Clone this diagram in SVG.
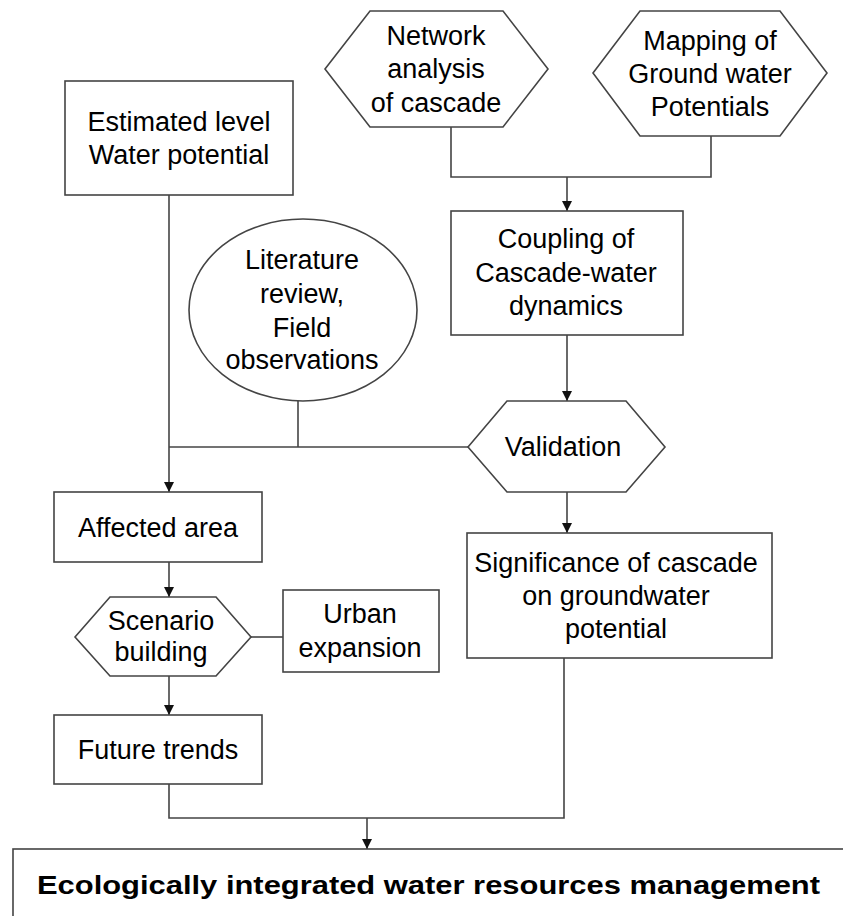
<svg xmlns="http://www.w3.org/2000/svg" width="843" height="916" viewBox="0 0 843 916">
<style>
.shape{fill:#fff;stroke:#444;stroke-width:1.6}
.conn{fill:none;stroke:#444;stroke-width:1.6}
text{font-family:"Liberation Sans",Arial,sans-serif;font-size:27px;fill:#000;text-anchor:middle}
.big{font-weight:bold;font-size:25px;text-anchor:start}
</style>
<defs>
<marker id="arr" viewBox="0 0 10 10" refX="10" refY="5" markerWidth="10" markerHeight="10" markerUnits="userSpaceOnUse" orient="auto">
<path d="M0,0 L10,5 L0,10 z" fill="#111"/>
</marker>
</defs>
<rect width="843" height="916" fill="#fff"/>
<g id="connectors">
<path class="conn" d="M451,127 V177 H711 V136"/>
<path class="conn" d="M567,177 V211" marker-end="url(#arr)"/>
<path class="conn" d="M567,335 V401" marker-end="url(#arr)"/>
<path class="conn" d="M567,492 V533" marker-end="url(#arr)"/>
<path class="conn" d="M169,195 V492" marker-end="url(#arr)"/>
<path class="conn" d="M169,447 H468"/>
<path class="conn" d="M298,401 V447"/>
<path class="conn" d="M169,562 V597" marker-end="url(#arr)"/>
<path class="conn" d="M169,676 V715" marker-end="url(#arr)"/>
<path class="conn" d="M251,637 H283"/>
<path class="conn" d="M169,784 V818 H564 V658"/>
<path class="conn" d="M367,818 V849" marker-end="url(#arr)"/>
</g>
<g id="network">
<polygon class="shape" points="325,69 370,11 503,11 548,69 503,127 370,127"/>
<text x="436" y="45">Network</text>
<text x="436" y="78">analysis</text>
<text x="436" y="112">of cascade</text>
</g>
<g id="mapping">
<polygon class="shape" points="593,73 640,11 780,11 827,73 780,136 640,136"/>
<text x="710" y="50">Mapping of</text>
<text x="710" y="83">Ground water</text>
<text x="710" y="116">Potentials</text>
</g>
<g id="estimated">
<rect class="shape" x="65" y="81" width="228" height="114"/>
<text x="179" y="131">Estimated level</text>
<text x="179" y="164">Water potential</text>
</g>
<g id="literature">
<ellipse class="shape" cx="303" cy="310" rx="114" ry="91"/>
<text x="302" y="269">Literature</text>
<text x="302" y="303">review,</text>
<text x="302" y="337">Field</text>
<text x="302" y="369">observations</text>
</g>
<g id="coupling">
<rect class="shape" x="451" y="211" width="232" height="124"/>
<text x="566" y="248">Coupling of</text>
<text x="566" y="282">Cascade-water</text>
<text x="566" y="315">dynamics</text>
</g>
<g id="validation">
<polygon class="shape" points="468,447 507,401 626,401 665,447 626,492 507,492"/>
<text x="563" y="456">Validation</text>
</g>
<g id="affected">
<rect class="shape" x="54" y="492" width="208" height="70"/>
<text x="158" y="537">Affected area</text>
</g>
<g id="scenario">
<polygon class="shape" points="75,637 110,597 216,597 251,637 216,676 110,676"/>
<text x="161" y="630">Scenario</text>
<text x="161" y="661">building</text>
</g>
<g id="urban">
<rect class="shape" x="283" y="590" width="156" height="82"/>
<text x="360" y="623">Urban</text>
<text x="360" y="657">expansion</text>
</g>
<g id="significance">
<rect class="shape" x="467" y="533" width="305" height="125"/>
<text x="616" y="572">Significance of cascade</text>
<text x="616" y="605">on groundwater</text>
<text x="616" y="638">potential</text>
</g>
<g id="future">
<rect class="shape" x="54" y="715" width="208" height="69"/>
<text x="158" y="759">Future trends</text>
</g>
<g id="ecological">
<rect class="shape" x="13" y="849" width="840" height="100"/>
<text class="big" x="37" y="894" textLength="783" lengthAdjust="spacingAndGlyphs">Ecologically integrated water resources management</text>
</g>
</svg>
